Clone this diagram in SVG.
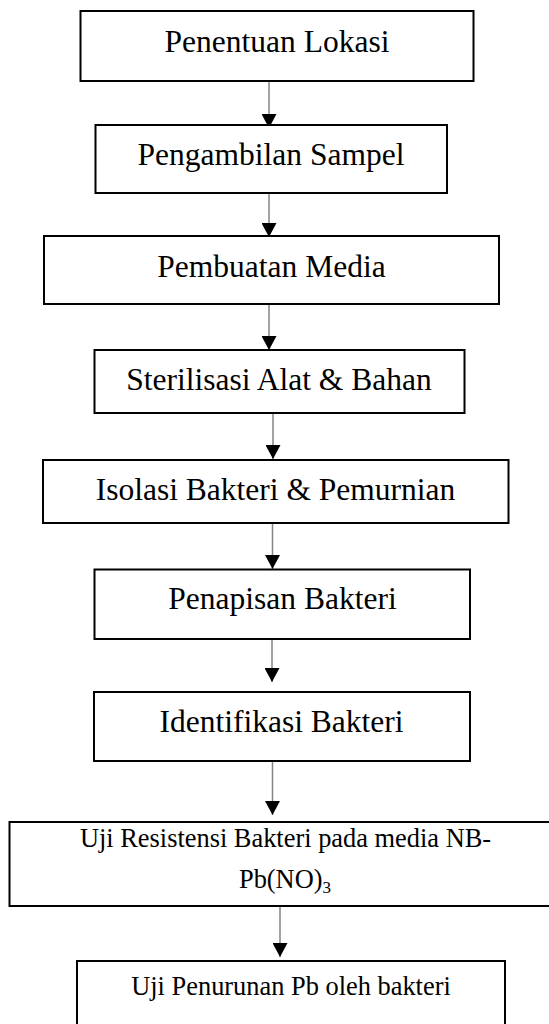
<svg xmlns="http://www.w3.org/2000/svg" width="549" height="1024" viewBox="0 0 549 1024">
  <style>
    .box { fill: #ffffff; stroke: #000000; stroke-width: 2; }
    .lbl { font-family: "Liberation Serif", "Times New Roman", serif; font-size: 31.5px; fill: #000000; text-anchor: middle; }
    .sm { font-size: 26.4px; }
    .conn { stroke: #858585; stroke-width: 1.5; fill: none; marker-end: url(#arrow); }
  </style>
  <defs>
    <marker id="arrow" markerUnits="userSpaceOnUse" viewBox="0 0 14 15" refX="14" refY="7.5" markerWidth="14" markerHeight="15" orient="auto">
      <path d="M0,0 L14,7.5 L0,15 Z" fill="#000000"/>
    </marker>
  </defs>
  <rect x="0" y="0" width="549" height="1024" fill="#ffffff"/>

  <g id="connectors">
    <line class="conn" x1="269" y1="81" x2="269" y2="128"/>
    <line class="conn" x1="269" y1="193" x2="269" y2="237"/>
    <line class="conn" x1="269" y1="304" x2="269" y2="350"/>
    <line class="conn" x1="273" y1="413" x2="273" y2="459"/>
    <line class="conn" x1="272.5" y1="523" x2="272.5" y2="569"/>
    <line class="conn" x1="272" y1="630" x2="272" y2="682"/>
    <line class="conn" x1="272.5" y1="761" x2="272.5" y2="815"/>
    <line class="conn" x1="280" y1="906" x2="280" y2="957"/>
  </g>

  <g id="n1">
    <rect class="box" x="80.5" y="11" width="393" height="70"/>
    <text class="lbl" x="277" y="52">Penentuan Lokasi</text>
  </g>
  <g id="n2">
    <rect class="box" x="95.5" y="125" width="351.5" height="68"/>
    <text class="lbl" x="271" y="165">Pengambilan Sampel</text>
  </g>
  <g id="n3">
    <rect class="box" x="44" y="236" width="455" height="68"/>
    <text class="lbl" x="271.5" y="277">Pembuatan Media</text>
  </g>
  <g id="n4">
    <rect class="box" x="94.5" y="350" width="370" height="63"/>
    <text class="lbl" x="279" y="390">Sterilisasi Alat &amp; Bahan</text>
  </g>
  <g id="n5">
    <rect class="box" x="43" y="460" width="465.5" height="63"/>
    <text class="lbl" x="275.5" y="500">Isolasi Bakteri &amp; Pemurnian</text>
  </g>
  <g id="n6">
    <rect class="box" x="94.5" y="569.5" width="375.5" height="69.5"/>
    <text class="lbl" x="282.5" y="609">Penapisan Bakteri</text>
  </g>
  <g id="n7">
    <rect class="box" x="94" y="692" width="376" height="69"/>
    <text class="lbl" x="281.5" y="732">Identifikasi Bakteri</text>
  </g>
  <g id="n8">
    <rect class="box" x="9.5" y="822" width="546" height="84"/>
    <text class="lbl sm" x="285.5" y="847">Uji Resistensi Bakteri pada media NB-</text>
    <text class="lbl sm" x="285" y="888">Pb(NO)<tspan font-size="17" dy="5">3</tspan></text>
  </g>
  <g id="n9">
    <rect class="box" x="77" y="961" width="428" height="80"/>
    <text class="lbl sm" x="291" y="995">Uji Penurunan Pb oleh bakteri</text>
  </g>
</svg>
